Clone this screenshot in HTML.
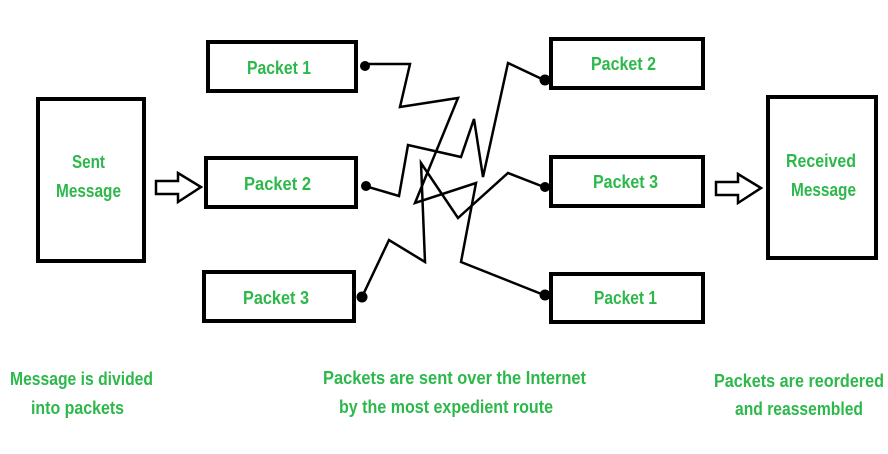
<!DOCTYPE html>
<html><head><style>
body{margin:0;background:#fff;}
text{font-family:"Liberation Sans",sans-serif;font-size:18px;fill:#2db84b;font-weight:bold;}
</style></head><body>
<svg width="888" height="449" viewBox="0 0 888 449" xmlns="http://www.w3.org/2000/svg">
<g fill="none" stroke="#000" stroke-width="4">
<rect x="38" y="99" width="106" height="162"/>
<rect x="768" y="97" width="108" height="161"/>
<rect x="208" y="42" width="148" height="49"/>
<rect x="206" y="158" width="150" height="49"/>
<rect x="204" y="272" width="150" height="49"/>
<rect x="551" y="39" width="152" height="49"/>
<rect x="551" y="157" width="152" height="49"/>
<rect x="551" y="274" width="152" height="48"/>
</g>
<g fill="#fff" stroke="#000" stroke-width="2.5" stroke-linejoin="miter">
<polygon points="156,181 178,181 178,173 201,187 178,202 178,194 156,194"/>
<polygon points="716,182 738,182 738,174 761,188 738,203 738,195 716,195"/>
</g>
<g fill="none" stroke="#000" stroke-width="2.5" stroke-linejoin="miter">
<polyline points="363,64 410,64 400,107 458,98 415,203 476,183 461,262 544,295"/>
<polyline points="365,186 399,196 408,145 461,157 474,119 483,177 508,63 544,80"/>
<polyline points="362,297 389,240 425,262 421,163 458,218 508,173 544,187"/>
</g>
<g fill="#000">
<circle cx="365" cy="66" r="5"/>
<circle cx="366" cy="186" r="5"/>
<circle cx="362" cy="297" r="5.5"/>
<circle cx="545" cy="80" r="5.5"/>
<circle cx="545" cy="187" r="5"/>
<circle cx="545" cy="295" r="5.5"/>
</g>
<g lengthAdjust="spacingAndGlyphs">
<text x="247" y="74" textLength="64" lengthAdjust="spacingAndGlyphs">Packet 1</text>
<text x="244" y="190" textLength="67" lengthAdjust="spacingAndGlyphs">Packet 2</text>
<text x="243" y="304" textLength="66" lengthAdjust="spacingAndGlyphs">Packet 3</text>
<text x="591" y="70" textLength="65" lengthAdjust="spacingAndGlyphs">Packet 2</text>
<text x="593" y="188" textLength="65" lengthAdjust="spacingAndGlyphs">Packet 3</text>
<text x="594" y="304" textLength="63" lengthAdjust="spacingAndGlyphs">Packet 1</text>
<text x="72" y="168" textLength="33" lengthAdjust="spacingAndGlyphs">Sent</text>
<text x="56" y="197" textLength="65" lengthAdjust="spacingAndGlyphs">Message</text>
<text x="786" y="167" textLength="70" lengthAdjust="spacingAndGlyphs">Received</text>
<text x="791" y="196" textLength="65" lengthAdjust="spacingAndGlyphs">Message</text>
<text x="10" y="385" textLength="143" lengthAdjust="spacingAndGlyphs">Message is divided</text>
<text x="31" y="414" textLength="93" lengthAdjust="spacingAndGlyphs">into packets</text>
<text x="323" y="384" textLength="263" lengthAdjust="spacingAndGlyphs">Packets are sent over the Internet</text>
<text x="339" y="413" textLength="214" lengthAdjust="spacingAndGlyphs">by the most expedient route</text>
<text x="714" y="387" textLength="170" lengthAdjust="spacingAndGlyphs">Packets are reordered</text>
<text x="735" y="415" textLength="128" lengthAdjust="spacingAndGlyphs">and reassembled</text>
</g>
</svg>
</body></html>
